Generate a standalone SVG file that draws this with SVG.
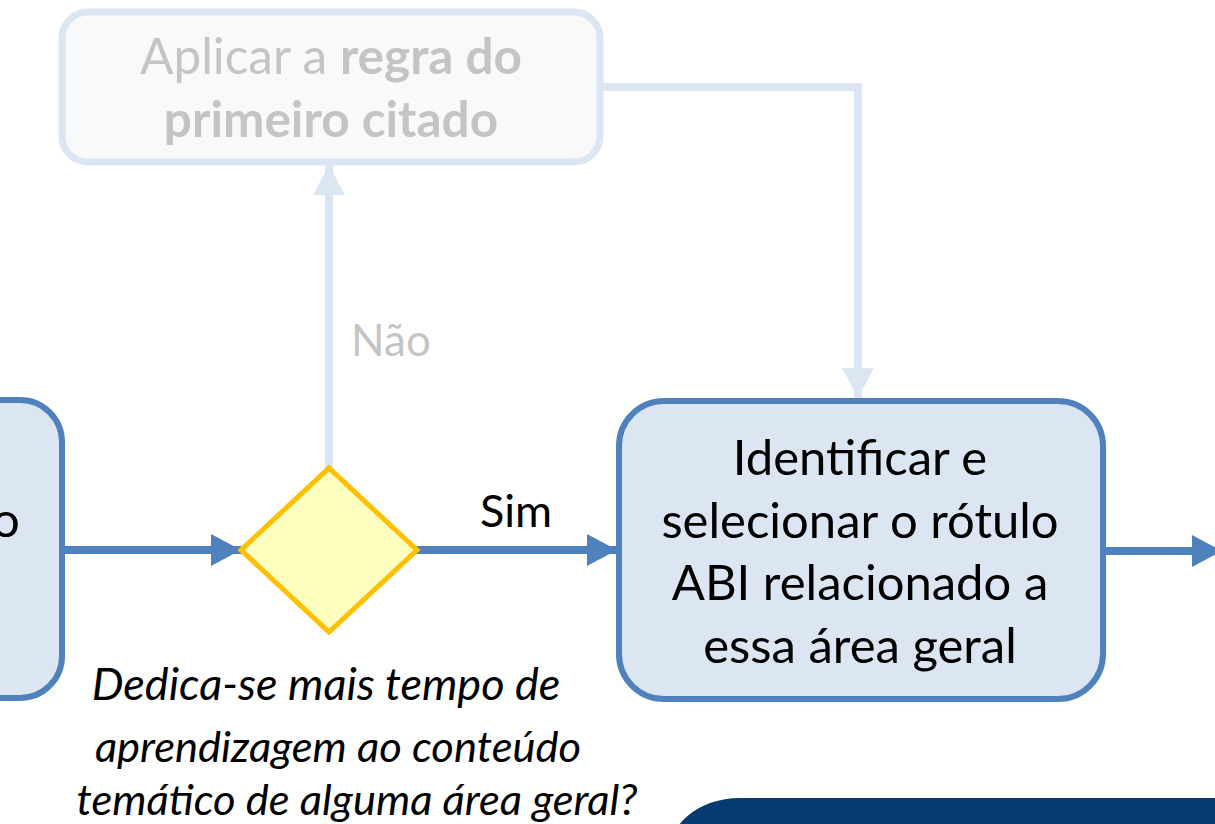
<svg xmlns="http://www.w3.org/2000/svg" width="1215" height="824" viewBox="0 0 1215 824">
<style>
text{font-family:Lato,"Open Sans","Liberation Sans",sans-serif;text-anchor:middle}
.node{fill:#dce6f2;stroke:#4f81bd;stroke-width:6}
.t{font-size:49px;fill:#000}
.q{font-size:43.5px;font-style:italic;fill:#000}
.faint{font-size:49.5px;fill:#c4c4c4}
.conn{stroke:#4f81bd;stroke-width:8;fill:none}
.connf{stroke:#dce6f2;stroke-width:8;fill:none}
</style>
<defs>
<marker id="ah" markerUnits="userSpaceOnUse" markerWidth="32" markerHeight="32" refX="30" refY="16" orient="auto"><path d="M0,0 L30,16 L0,32 Z" fill="#4f81bd"/></marker>
<marker id="ahf" markerUnits="userSpaceOnUse" markerWidth="32" markerHeight="32" refX="30" refY="16" orient="auto"><path d="M0,0 L30,16 L0,32 Z" fill="#dce6f2"/></marker>
</defs>
<g id="dark-panel"><rect x="667" y="798" width="620" height="120" rx="72" fill="#083a72"/></g>
<g id="connectors">
<line class="conn" x1="62" y1="550" x2="241" y2="550" marker-end="url(#ah)"/>
<line class="conn" x1="417" y1="550" x2="617" y2="550" marker-end="url(#ah)"/>
<line class="connf" x1="329" y1="468" x2="329" y2="165" marker-end="url(#ahf)"/>
<polyline class="connf" points="602,87 858,87 858,398" marker-end="url(#ahf)"/>
<line class="conn" x1="1103" y1="551" x2="1222" y2="551" marker-end="url(#ah)"/>
<text x="516" y="527" class="t" style="font-size:45px">Sim</text>
<text x="391" y="356" class="faint" style="font-size:44px;font-weight:normal">Não</text>
</g>
<g id="left-node">
<rect class="node" x="-60" y="400" width="122" height="298" rx="42"/>
<text x="6" y="537" class="t">o</text>
</g>
<g id="decision">
<polygon points="241,550 329,468 417,550 329,632" fill="#ffffc0" stroke="#ffc000" stroke-width="5"/>
<text x="326" y="700" class="q" style="font-size:45px">Dedica-se mais tempo de</text>
<text x="338" y="762" class="q">aprendizagem ao conteúdo</text>
<text x="357" y="815" class="q">temático de alguma área geral?</text>
</g>
<g id="rule-node">
<rect x="62" y="12" width="538" height="150" rx="26" fill="#f8f9fb" stroke="#dce6f2" stroke-width="7"/>
<text x="331" y="74" class="faint">Aplicar a <tspan font-weight="bold">regra do</tspan></text>
<text x="331" y="137" class="faint" font-weight="bold">primeiro citado</text>
</g>
<g id="select-node">
<rect class="node" x="619" y="401" width="484" height="298" rx="45"/>
<text x="860" y="475" class="t">Identificar e</text>
<text x="860" y="538" class="t">selecionar o rótulo</text>
<text x="860" y="600" class="t">ABI relacionado a</text>
<text x="860" y="663" class="t">essa área geral</text>
</g>
</svg>
